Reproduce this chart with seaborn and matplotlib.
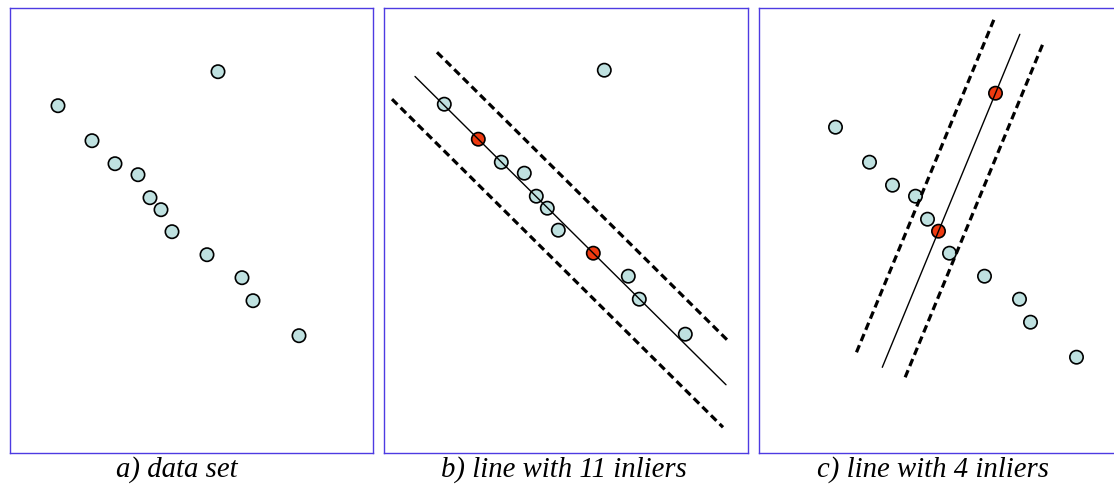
import numpy as np
import pandas as pd
import seaborn as sns
import matplotlib
matplotlib.use("Agg")
import matplotlib.pyplot as plt

sns.set_style("white")
plt.rcParams['font.family'] = ['Liberation Serif', 'DejaVu Serif']

# ---- data (same point set in all three panels) ----
pts_x = [4.8, 8.2, 10.5, 12.8, 14.0, 15.1, 16.2, 19.7, 23.2, 24.3, 28.9, 20.8]
pts_y = [34.7, 31.2, 28.9, 27.8, 25.5, 24.3, 22.1, 19.8, 17.5, 15.2, 11.7, 38.1]

# sampled (red) points for panels b and c (indices into the point set)
sample_b = [1, 7]
sample_c = [5, 11]

# panel b: band offsets (vertical) and x extents of [upper, line, lower]
offsets_b = [4.6, 0.0, -4.55]
xext_b = [(4.07, 33.07), (1.87, 32.97), (-0.43, 32.67)]

# panel c: band offsets (horizontal) and y extents of [left, line, right]
offsets_c = [-3.2, 0.0, 2.7]
yext_c = [(12.19, 45.69), (10.69, 43.99), (9.69, 43.15)]

captions = ["a) data set", "b) line with 11 inliers", "c) line with 4 inliers"]

df = pd.DataFrame({"x": pts_x, "y": pts_y})

W, H = 1114, 487
fig = plt.figure(figsize=(W / 100, H / 100), dpi=100)

def add_axes(left, top, width, height):
    return fig.add_axes([left / W, 1 - (top + height) / H, width / W, height / H])

axa = add_axes(10, 8.3, 363.3, 444.4)
axb = add_axes(384.3, 8.3, 364, 444.4)
axc = add_axes(759, 8.3, 364, 444.4)

lims = [((0, 36.33), (0, 44.44)),
        ((-1.2, 35.2), (-0.15, 44.29)),
        ((-2.85, 33.55), (2.15, 46.59))]

FILL = "#bfe1e0"
RED = "#ee3a10"
BORDER = "#4d3be2"
MS = 92

def draw_points(ax, red_idx):
    colors = ["red" if i in red_idx else "blue" for i in range(len(df))]
    d = df.assign(kind=colors)
    sns.scatterplot(data=d, x="x", y="y", hue="kind",
                    palette={"blue": FILL, "red": RED}, s=MS,
                    edgecolor="black", linewidth=1.2, legend=False,
                    ax=ax, zorder=2)

for ax, red_idx in zip([axa, axb, axc], [[], sample_b, sample_c]):
    draw_points(ax, red_idx)

# panel b: line through sampled points
xb = np.array([pts_x[i] for i in sample_b])
yb = np.array([pts_y[i] for i in sample_b])
mb, cb = np.polyfit(xb, yb, 1)
for off, (x0, x1) in zip(offsets_b, xext_b):
    xs = np.array([x0, x1])
    ys = mb * xs + cb + off
    if off == 0:
        axb.plot(xs, ys, color="black", lw=1.0, zorder=3)
    else:
        axb.plot(xs, ys, color="black", lw=2.3, dashes=(2.4, 1.4), zorder=3)

# panel c: line through sampled points (parameterised by y)
xc = np.array([pts_x[i] for i in sample_c])
yc = np.array([pts_y[i] for i in sample_c])
mc, cc = np.polyfit(yc, xc, 1)
for off, (y0, y1) in zip(offsets_c, yext_c):
    ys = np.array([y0, y1])
    xs = mc * ys + cc + off
    if off == 0:
        axc.plot(xs, ys, color="black", lw=1.0, zorder=3)
    else:
        axc.plot(xs, ys, color="black", lw=2.3, dashes=(2.4, 1.4), zorder=3)

for ax, (xl, yl) in zip([axa, axb, axc], lims):
    ax.set_xlim(*xl)
    ax.set_ylim(*yl)
    ax.set_xticks([])
    ax.set_yticks([])
    ax.set_xlabel("")
    ax.set_ylabel("")
    for sp in ax.spines.values():
        sp.set_visible(True)
        sp.set_color(BORDER)
        sp.set_linewidth(1.0)

cap_x = [177, 563.5, 933]
for cx, txt in zip(cap_x, captions):
    fig.text(cx / W, 1 - 477 / H, txt, ha="center", va="baseline",
             fontsize=20.7, style="italic", color="black",
             family=["Liberation Serif", "DejaVu Serif"])

fig.savefig("out.png", dpi=100)
